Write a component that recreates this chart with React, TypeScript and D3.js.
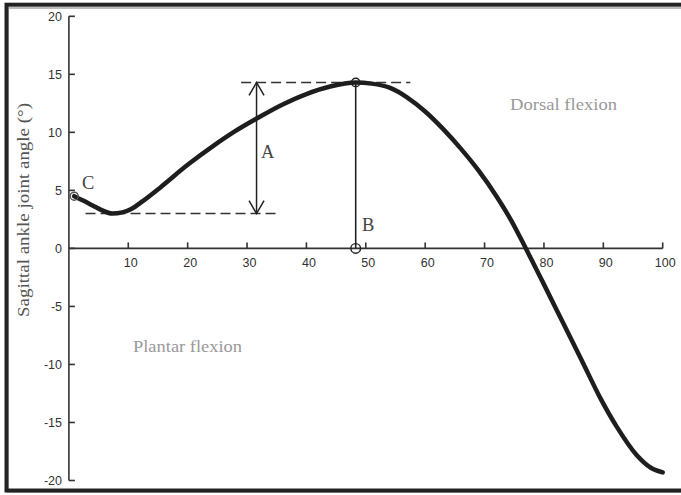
import React from "react";
import * as d3 from "d3";

// Gait cycle (% of stride) and sagittal ankle joint angle (degrees)
const gaitPercent = [0.9, 2.5, 4, 5.5, 7.3, 9, 10.5, 12.5, 15.5, 20, 24.5, 28, 32, 36, 40, 44, 48.3, 51, 54, 57, 60, 63, 66, 69, 72, 74.5, 77, 80, 83.3, 86.6, 89.5, 92.3, 95.6, 98, 100];
const ankleAngle = [4.5, 4.1, 3.7, 3.3, 3.0, 3.1, 3.4, 4.1, 5.3, 7.2, 8.9, 10.1, 11.3, 12.4, 13.3, 13.95, 14.3, 14.2, 13.85, 13.0, 11.8, 10.3, 8.6, 6.7, 4.5, 2.4, -0.05, -3.1, -6.5, -9.9, -12.9, -15.4, -17.8, -18.9, -19.3];

const xTicks = [10, 20, 30, 40, 50, 60, 70, 80, 90, 100];
const yTicks = [20, 15, 10, 5, 0, -5, -10, -15, -20];

// Annotated quantities
const peakX = 48.3;
const peakY = 14.3;
const minY = 3.0;
const startX = 0.9;
const startY = 4.5;
const arrowX = 31.6;
const upperDash = [29, 57.5];
const lowerDash = [2.8, 35.3];

const W = 681;
const H = 495;

export default function App() {
  const x = d3.scaleLinear().domain([0, 100]).range([68.9, 662.7]);
  const y = d3.scaleLinear().domain([-20, 20]).range([480.5, 16.3]);

  const pts = gaitPercent.map((g, i) => [g, ankleAngle[i]] as [number, number]);
  const line = d3
    .line<[number, number]>()
    .x((d) => x(d[0]))
    .y((d) => y(d[1]))
    .curve(d3.curveMonotoneX);

  const axisColor = "#333";
  const serif = "'Liberation Serif', 'DejaVu Serif', serif";
  const sans = "'Liberation Sans', Arial, sans-serif";

  const ax = x(arrowX);
  const aTop = y(peakY);
  const aBot = y(minY);

  return (
    <svg width={W} height={H} style={{ position: "absolute", left: 0, top: 0, background: "#fff" }}>
      {/* frame */}
      <rect x={8} y={8} width={690} height={484} fill="none" stroke="#bbb" strokeWidth={2} />
      <rect x={6.5} y={4.7} width={690} height={485.8} fill="none" stroke="#222" strokeWidth={4} />

      {/* y axis */}
      <line x1={x(0)} x2={x(0)} y1={y(20)} y2={y(-20)} stroke={axisColor} strokeWidth={1.6} />
      {yTicks.map((t) => (
        <g key={"y" + t}>
          <line x1={x(0)} x2={x(0) + 6} y1={y(t)} y2={y(t)} stroke={axisColor} strokeWidth={1.6} />
          <text x={62} y={y(t)} dy="0.36em" textAnchor="end" fontFamily={sans} fontSize={12.5} fill="#333">
            {t}
          </text>
        </g>
      ))}

      {/* x axis at zero */}
      <line x1={x(0)} x2={x(100)} y1={y(0)} y2={y(0)} stroke={axisColor} strokeWidth={1.6} />
      {xTicks.map((t) => (
        <g key={"x" + t}>
          <line x1={x(t)} x2={x(t)} y1={y(0)} y2={y(0) - 6} stroke={axisColor} strokeWidth={1.6} />
          <text x={x(t) + 2.5} y={267} textAnchor="middle" fontFamily={sans} fontSize={12.5} fill="#333">
            {t}
          </text>
        </g>
      ))}

      {/* dashed reference lines */}
      <line x1={x(upperDash[0])} x2={x(upperDash[1])} y1={y(peakY)} y2={y(peakY)} stroke="#333" strokeWidth={1.5} strokeDasharray="10,5" />
      <line x1={x(lowerDash[0])} x2={x(lowerDash[1])} y1={y(minY)} y2={y(minY)} stroke="#333" strokeWidth={1.5} strokeDasharray="10,5" />

      {/* double arrow A */}
      <line x1={ax} x2={ax} y1={aTop} y2={aBot} stroke="#222" strokeWidth={1.5} />
      <polyline points={`${ax - 7.5},${aTop + 13} ${ax},${aTop} ${ax + 7.5},${aTop + 13}`} fill="none" stroke="#222" strokeWidth={1.5} />
      <polyline points={`${ax - 7.5},${aBot - 13} ${ax},${aBot} ${ax + 7.5},${aBot - 13}`} fill="none" stroke="#222" strokeWidth={1.5} />

      {/* vertical B */}
      <line x1={x(peakX)} x2={x(peakX)} y1={y(0)} y2={y(peakY)} stroke="#222" strokeWidth={1.6} />

      {/* ankle angle curve */}
      <path d={line(pts) || ""} fill="none" stroke="#1e1e1e" strokeWidth={4.5} strokeLinecap="round" strokeLinejoin="round" />

      {/* markers */}
      <circle cx={x(peakX)} cy={y(peakY)} r={4.2} fill="none" stroke="#222" strokeWidth={1.4} />
      <circle cx={x(peakX)} cy={y(0)} r={4.8} fill="none" stroke="#222" strokeWidth={1.4} />
      <circle cx={x(startX)} cy={y(startY)} r={4} fill="none" stroke="#555" strokeWidth={1.4} />

      {/* letters */}
      <text x={261} y={158} fontFamily={serif} fontSize={18.5} fill="#444">A</text>
      <text x={362} y={231} fontFamily={serif} fontSize={18.5} fill="#444">B</text>
      <text x={82} y={189} fontFamily={serif} fontSize={18.5} fill="#444">C</text>

      {/* regions */}
      <text x={510} y={110} fontFamily={serif} fontSize={16.5} fill="#999" textLength={107} lengthAdjust="spacingAndGlyphs">Dorsal flexion</text>
      <text x={133} y={352} fontFamily={serif} fontSize={16.5} fill="#999" textLength={109} lengthAdjust="spacingAndGlyphs">Plantar flexion</text>

      {/* y-axis title */}
      <text transform="translate(29,210) rotate(-90)" textAnchor="middle" fontFamily={serif} fontSize={16} fill="#555" textLength={214} lengthAdjust="spacingAndGlyphs">
        Sagittal ankle joint angle (°)
      </text>
    </svg>
  );
}
